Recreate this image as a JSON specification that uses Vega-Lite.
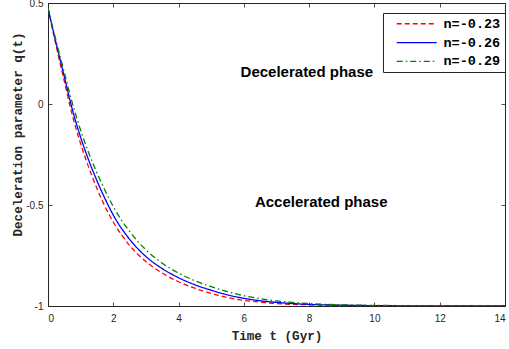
{
  "$schema": "https://vega.github.io/schema/vega-lite/v6.json",
  "width": 457,
  "height": 303,
  "autosize": {"type": "none"},
  "padding": {"left": 48, "top": 3, "right": 4, "bottom": 43},
  "background": "white",
  "config": {
    "view": {"stroke": "#262626", "strokeWidth": 1},
    "axis": {
      "domain": false,
      "grid": false,
      "tickColor": "#262626",
      "tickWidth": 0.8,
      "labelFont": "Liberation Sans",
      "labelFontSize": 10,
      "labelColor": "#262626",
      "titleFont": "Liberation Mono",
      "titleFontWeight": "bold",
      "titleFontSize": 12.6,
      "titleColor": "#262626"
    }
  },
  "datasets": {
    "curves": [
      {"t": 0, "q": 0.475, "n": "n=-0.23"},
      {"t": 0.25, "q": 0.288, "n": "n=-0.23"},
      {"t": 0.5, "q": 0.112, "n": "n=-0.23"},
      {"t": 0.75, "q": -0.058, "n": "n=-0.23"},
      {"t": 1.0, "q": -0.197, "n": "n=-0.23"},
      {"t": 1.25, "q": -0.315, "n": "n=-0.23"},
      {"t": 1.5, "q": -0.418, "n": "n=-0.23"},
      {"t": 1.75, "q": -0.509, "n": "n=-0.23"},
      {"t": 2.0, "q": -0.584, "n": "n=-0.23"},
      {"t": 2.5, "q": -0.700, "n": "n=-0.23"},
      {"t": 3.0, "q": -0.780, "n": "n=-0.23"},
      {"t": 3.5, "q": -0.837, "n": "n=-0.23"},
      {"t": 4.0, "q": -0.880, "n": "n=-0.23"},
      {"t": 4.5, "q": -0.912, "n": "n=-0.23"},
      {"t": 5.0, "q": -0.938, "n": "n=-0.23"},
      {"t": 5.5, "q": -0.958, "n": "n=-0.23"},
      {"t": 6.0, "q": -0.972, "n": "n=-0.23"},
      {"t": 6.5, "q": -0.981, "n": "n=-0.23"},
      {"t": 7.0, "q": -0.988, "n": "n=-0.23"},
      {"t": 7.5, "q": -0.992, "n": "n=-0.23"},
      {"t": 8.0, "q": -0.994, "n": "n=-0.23"},
      {"t": 9.0, "q": -0.997, "n": "n=-0.23"},
      {"t": 10.0, "q": -0.999, "n": "n=-0.23"},
      {"t": 11.0, "q": -1.0, "n": "n=-0.23"},
      {"t": 12.0, "q": -1.0, "n": "n=-0.23"},
      {"t": 13.0, "q": -1.0, "n": "n=-0.23"},
      {"t": 14.0, "q": -1.0, "n": "n=-0.23"},
      {"t": 0, "q": 0.475, "n": "n=-0.26"},
      {"t": 0.25, "q": 0.300, "n": "n=-0.26"},
      {"t": 0.5, "q": 0.135, "n": "n=-0.26"},
      {"t": 0.75, "q": -0.030, "n": "n=-0.26"},
      {"t": 1.0, "q": -0.165, "n": "n=-0.26"},
      {"t": 1.25, "q": -0.280, "n": "n=-0.26"},
      {"t": 1.5, "q": -0.380, "n": "n=-0.26"},
      {"t": 1.75, "q": -0.470, "n": "n=-0.26"},
      {"t": 2.0, "q": -0.550, "n": "n=-0.26"},
      {"t": 2.5, "q": -0.670, "n": "n=-0.26"},
      {"t": 3.0, "q": -0.755, "n": "n=-0.26"},
      {"t": 3.5, "q": -0.815, "n": "n=-0.26"},
      {"t": 4.0, "q": -0.860, "n": "n=-0.26"},
      {"t": 4.5, "q": -0.895, "n": "n=-0.26"},
      {"t": 5.0, "q": -0.922, "n": "n=-0.26"},
      {"t": 5.5, "q": -0.945, "n": "n=-0.26"},
      {"t": 6.0, "q": -0.962, "n": "n=-0.26"},
      {"t": 6.5, "q": -0.974, "n": "n=-0.26"},
      {"t": 7.0, "q": -0.982, "n": "n=-0.26"},
      {"t": 7.5, "q": -0.988, "n": "n=-0.26"},
      {"t": 8.0, "q": -0.992, "n": "n=-0.26"},
      {"t": 9.0, "q": -0.996, "n": "n=-0.26"},
      {"t": 10.0, "q": -0.998, "n": "n=-0.26"},
      {"t": 11.0, "q": -0.999, "n": "n=-0.26"},
      {"t": 12.0, "q": -1.0, "n": "n=-0.26"},
      {"t": 13.0, "q": -1.0, "n": "n=-0.26"},
      {"t": 14.0, "q": -1.0, "n": "n=-0.26"},
      {"t": 0, "q": 0.475, "n": "n=-0.29"},
      {"t": 0.25, "q": 0.311, "n": "n=-0.29"},
      {"t": 0.5, "q": 0.156, "n": "n=-0.29"},
      {"t": 0.75, "q": 0.002, "n": "n=-0.29"},
      {"t": 1.0, "q": -0.130, "n": "n=-0.29"},
      {"t": 1.25, "q": -0.243, "n": "n=-0.29"},
      {"t": 1.5, "q": -0.341, "n": "n=-0.29"},
      {"t": 1.75, "q": -0.429, "n": "n=-0.29"},
      {"t": 2.0, "q": -0.508, "n": "n=-0.29"},
      {"t": 2.5, "q": -0.631, "n": "n=-0.29"},
      {"t": 3.0, "q": -0.722, "n": "n=-0.29"},
      {"t": 3.5, "q": -0.788, "n": "n=-0.29"},
      {"t": 4.0, "q": -0.837, "n": "n=-0.29"},
      {"t": 4.5, "q": -0.875, "n": "n=-0.29"},
      {"t": 5.0, "q": -0.904, "n": "n=-0.29"},
      {"t": 5.5, "q": -0.929, "n": "n=-0.29"},
      {"t": 6.0, "q": -0.949, "n": "n=-0.29"},
      {"t": 6.5, "q": -0.964, "n": "n=-0.29"},
      {"t": 7.0, "q": -0.975, "n": "n=-0.29"},
      {"t": 7.5, "q": -0.982, "n": "n=-0.29"},
      {"t": 8.0, "q": -0.988, "n": "n=-0.29"},
      {"t": 9.0, "q": -0.994, "n": "n=-0.29"},
      {"t": 10.0, "q": -0.997, "n": "n=-0.29"},
      {"t": 11.0, "q": -0.998, "n": "n=-0.29"},
      {"t": 12.0, "q": -0.999, "n": "n=-0.29"},
      {"t": 13.0, "q": -1.0, "n": "n=-0.29"},
      {"t": 14.0, "q": -1.0, "n": "n=-0.29"}
    ],
    "labels": [
      {"t": 7.93, "q": 0.16, "label": "Decelerated phase"},
      {"t": 8.37, "q": -0.484, "label": "Accelerated phase"}
    ]
  },
  "layer": [
    {
      "mark": {"type": "rule", "strokeDash": [1, 2], "color": "black", "strokeWidth": 1},
      "encoding": {"y": {"datum": 0, "type": "quantitative", "axis": null, "scale": {"domain": [-1, 0.5], "nice": false, "zero": false}}}
    },
    {
      "data": {"name": "curves"},
      "mark": {"type": "line", "strokeWidth": 1.3, "interpolate": "monotone", "clip": true},
      "encoding": {
        "x": {
          "field": "t", "type": "quantitative",
          "scale": {"domain": [0, 14], "nice": false, "zero": false},
          "axis": {"orient": "bottom", "values": [0, 2, 4, 6, 8, 10, 12, 14], "tickSize": -4, "labelPadding": 11, "title": "Time t (Gyr)", "titleX": 228.5, "titleY": 29, "titleBaseline": "middle"}
        },
        "y": {
          "field": "q", "type": "quantitative",
          "scale": {"domain": [-1, 0.5], "nice": false, "zero": false},
          "axis": {"orient": "left", "values": [-1, -0.5, 0, 0.5], "labelExpr": "'' + datum.value", "tickSize": -4, "labelPadding": 9, "title": "Deceleration parameter q(t)", "titleX": -31, "titleY": 131, "titleBaseline": "middle", "titleAngle": -90}
        },
        "color": {
          "field": "n", "type": "nominal",
          "scale": {"domain": ["n=-0.23", "n=-0.26", "n=-0.29"], "range": ["#ff0000", "#0000ff", "#008000"]},
          "legend": {
            "title": null, "orient": "none", "legendX": 335, "legendY": 10,
            "symbolType": "M-1,0H39", "symbolSize": 4, "symbolStrokeWidth": 1.3,
            "labelFont": "Liberation Mono", "labelFontWeight": "bold", "labelFontSize": 13.5, "labelColor": "black",
            "labelOffset": 39, "symbolOffset": 4, "rowPadding": 3.8,
            "padding": 4, "strokeColor": "#262626", "fillColor": "white"
          }
        },
        "strokeDash": {
          "field": "n", "type": "nominal",
          "scale": {"domain": ["n=-0.23", "n=-0.26", "n=-0.29"], "range": [[5, 3], [1, 0], [6, 3, 1.5, 3]]},
          "legend": null
        }
      }
    },
    {
      "data": {"name": "labels"},
      "mark": {"type": "text", "font": "Liberation Sans", "fontWeight": "bold", "fontSize": 15, "color": "black", "align": "center", "baseline": "middle"},
      "encoding": {
        "x": {"field": "t", "type": "quantitative", "scale": {"domain": [0, 14], "nice": false, "zero": false},
          "axis": {"orient": "top", "values": [0, 2, 4, 6, 8, 10, 12, 14], "tickSize": -4, "labels": false, "title": null}},
        "y": {"field": "q", "type": "quantitative", "scale": {"domain": [-1, 0.5], "nice": false, "zero": false},
          "axis": {"orient": "right", "values": [-1, -0.5, 0, 0.5], "tickSize": -4, "labels": false, "title": null}},
        "text": {"field": "label"}
      }
    }
  ],
  "resolve": {"axis": {"x": "independent", "y": "independent"}}
}
